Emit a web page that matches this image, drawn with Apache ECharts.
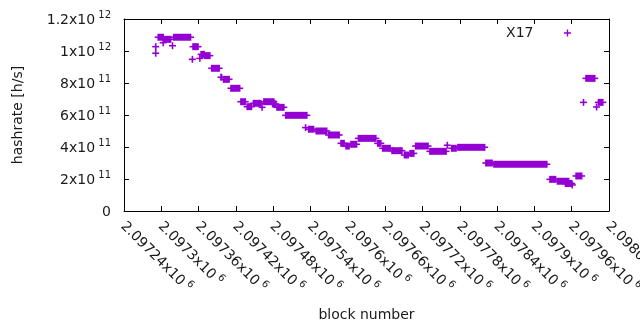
<!DOCTYPE html>
<html>
<head>
<meta charset="utf-8">
<title>hashrate</title>
<script src="https://cdn.jsdelivr.net/npm/echarts@6/dist/echarts.min.js"></script>
<style>
  html, body { margin: 0; padding: 0; background: #fff; }
  #chart { width: 640px; height: 330px; }
</style>
</head>
<body>
<div id="chart"></div>
<script>
// runs of blocks that share one hashrate value
var segStart = [2097291, 2097291, 2097295, 2097303, 2097305, 2097318, 2097320, 2097350, 2097351, 2097362,
                2097364, 2097370, 2097381, 2097396, 2097400, 2097412, 2097428, 2097438, 2097448, 2097462,
                2097465, 2097479, 2097486, 2097500, 2097532, 2097537, 2097549, 2097569, 2097589, 2097597,
                2097605, 2097617, 2097648, 2097656, 2097671, 2097691, 2097700, 2097709, 2097732, 2097760,
                2097767, 2097777, 2097822, 2097835, 2097925, 2097937, 2097950, 2097961, 2097967, 2097979,
                2097983, 2098000, 2098003];
var segEnd   = [2097291, 2097291, 2097303, 2097303, 2097315, 2097318, 2097347, 2097350, 2097359, 2097362,
                2097369, 2097378, 2097393, 2097397, 2097409, 2097426, 2097435, 2097445, 2097460, 2097462,
                2097481, 2097484, 2097497, 2097534, 2097532, 2097545, 2097566, 2097586, 2097594, 2097602,
                2097614, 2097645, 2097653, 2097668, 2097687, 2097697, 2097706, 2097729, 2097758, 2097760,
                2097774, 2097820, 2097832, 2097920, 2097934, 2097955, 2097960, 2097961, 2097976, 2097979,
                2097997, 2098000, 2098010];
// hashrate in units of 1e9 h/s
var segValue = [1027, 986, 1086, 1052, 1073, 1033, 1086, 948, 1027, 954,
                979, 971, 892, 836, 823, 767, 683, 652, 673, 648,
                683, 669, 648, 598, 521, 511, 500, 475, 423, 406,
                417, 454, 423, 392, 377, 350, 360, 406, 373, 411,
                392, 398, 300, 292, 198, 186, 172, 163, 219, 679,
                829, 650, 679];

var xMin = 2097240, xMax = 2098020, xStep = 60;
var yMin = 0, yMax = 1.2e12, yStep = 2e11;

var purple = '#9400d3';
var ink = '#1a1a1a';
var font = 'DejaVu Sans';

var segData = [];
for (let i = 0; i < segStart.length; i++) {
    segData.push([segStart[i], segEnd[i], segValue[i] * 1e9]);
}

// gnuplot style "mantissa x10^exp"
function sci(v, exp) {
    if (v === 0) { return '{base|0}'; }
    if (exp === undefined) { exp = Math.floor(Math.log10(v) + 1e-9); }
    var m = parseFloat((v / Math.pow(10, exp)).toFixed(6));
    return `{base|${m}x10}{sup| ${exp}}`;
}

var rich = {
    base: { fontFamily: font, fontSize: 14, color: ink, lineHeight: 17, verticalAlign: 'bottom' },
    sup: { fontFamily: font, fontSize: 10, color: ink, lineHeight: 10, verticalAlign: 'top' }
};

// one "+" per block, so a run turns into a solid bar with arms on both ends
function renderSeg(params, api) {
    var a = api.coord([api.value(0), api.value(2)]);
    var b = api.coord([api.value(1), api.value(2)]);
    var w = b[0] - a[0];
    var c = api.visual('color');
    return {
        type: 'group',
        children: [
            { type: 'rect', shape: { x: a[0] - 0.8, y: a[1] - 3.5, width: w + 1.6, height: 7 }, style: { fill: c } },
            { type: 'rect', shape: { x: a[0] - 3.5, y: a[1] - 0.8, width: w + 7, height: 1.6 }, style: { fill: c } }
        ]
    };
}

var plusIcon = 'path://M3,0H4.5V3H7.5V4.5H4.5V7.5H3V4.5H0V3H3Z';

var axisLine = { show: true, onZero: false, lineStyle: { color: '#000', width: 1 } };
var tick = { show: true, inside: true, length: 5, lineStyle: { color: '#000', width: 1 } };

var chart = echarts.init(document.getElementById('chart'));
var option = {
    animation: false,
    backgroundColor: '#fff',
    grid: { left: 124, right: 31, top: 19, bottom: 119, containLabel: false, outerBoundsMode: 'none' },
    legend: {
        data: [{ name: 'X17', icon: plusIcon }],
        right: 64, top: 21,
        align: 'right',
        itemWidth: 58, itemHeight: 7,
        textStyle: { fontFamily: font, fontSize: 14, color: ink }
    },
    xAxis: [{
        type: 'value', position: 'bottom',
        min: xMin, max: xMax, interval: xStep,
        name: 'block number', nameLocation: 'middle', nameGap: 97, nameMoveOverlap: false,
        nameTextStyle: { fontFamily: font, fontSize: 14, color: ink },
        axisLine: axisLine, axisTick: tick, splitLine: { show: false },
        axisLabel: {
            rotate: -45, margin: 12, fontFamily: font, fontSize: 14, color: ink,
            formatter: (v) => sci(v, 6), rich: rich
        }
    }, {
        type: 'value', position: 'top',
        min: xMin, max: xMax, interval: xStep,
        axisLine: axisLine, axisTick: tick, splitLine: { show: false },
        axisLabel: { show: false }
    }],
    yAxis: [{
        type: 'value', position: 'left',
        min: yMin, max: yMax, interval: yStep,
        name: 'hashrate [h/s]', nameLocation: 'middle', nameGap: 99, nameRotate: 90, nameMoveOverlap: false,
        nameTextStyle: { fontFamily: font, fontSize: 14, color: ink },
        axisLine: axisLine, axisTick: tick, splitLine: { show: false },
        axisLabel: {
            margin: 13, fontFamily: font, fontSize: 14, color: ink,
            formatter: (v) => sci(v), rich: rich
        }
    }, {
        type: 'value', position: 'right',
        min: yMin, max: yMax, interval: yStep,
        axisLine: axisLine, axisTick: tick, splitLine: { show: false },
        axisLabel: { show: false }
    }],
    series: [{
        name: 'X17',
        type: 'custom',
        xAxisIndex: 0, yAxisIndex: 0,
        renderItem: renderSeg,
        itemStyle: { color: purple },
        encode: { x: [0, 1], y: 2 },
        data: segData
    }]
};
chart.setOption(option);
</script>
</body>
</html>
